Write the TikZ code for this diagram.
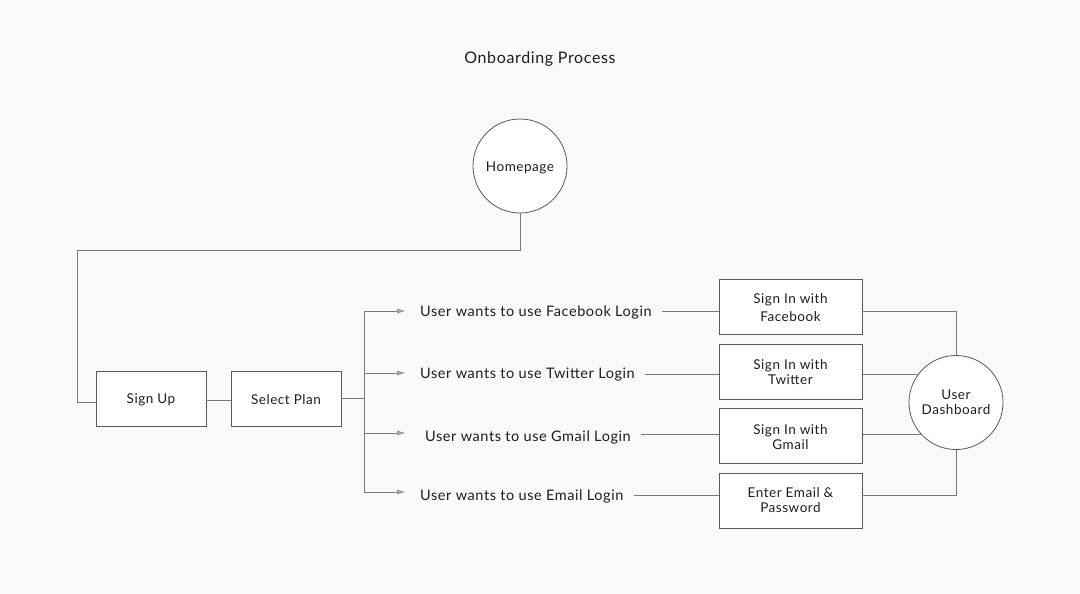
\documentclass[tikz,border=0pt]{standalone}
\usepackage{fontspec}
\setmainfont{Lato}[LetterSpace=4]
\usetikzlibrary{arrows.meta,calc}
\definecolor{bg}{HTML}{F9F9F9}
\definecolor{edge}{HTML}{7A7A7A}
\definecolor{bord}{HTML}{5A5A5A}
\definecolor{txt}{HTML}{1E1E1E}
\newcommand{\lowr}[2]{\raisebox{-#1}[\height][\depth]{\begin{tabular}{@{}c@{}}#2\end{tabular}}}
\tikzset{
  box/.style={draw=bord, line width=0.8pt, fill=white, minimum width=110pt, minimum height=55pt, inner sep=0pt, align=center, text=txt, font=\fontsize{13.5}{15}\selectfont},
  wbox/.style={box, minimum width=143pt, font=\fontsize{13.5}{15}\selectfont},
  circ/.style={draw=bord, line width=0.8pt, fill=white, circle, minimum size=94pt, inner sep=0pt, align=center, text=txt, font=\fontsize{13.5}{15}\selectfont},
  lab/.style={anchor=west, inner xsep=10pt, inner ysep=2pt, text=txt, font=\fontsize{14.5}{16}\selectfont},
  conn/.style={draw=edge, line width=0.9pt},
  arr/.style={conn, -{Triangle[length=8pt, width=4.5pt, fill=edge!60, color=edge!80]}},
}
\begin{document}
\begin{tikzpicture}[x=1pt, y=-1pt]
\fill[bg] (0,0) rectangle (1080,594);
\useasboundingbox (0,0) rectangle (1080,594);

\node[text=txt, font=\fontsize{16}{18}\selectfont] (title) at (540,59) {Onboarding Process};

\node[circ] (home) at (520,166) {\lowr{2pt}{Homepage}};
\node[box] (signup) at (151,398.5) {\lowr{2pt}{Sign Up}};
\node[box] (plan) at (286,398.5) {\lowr{2.5pt}{Select Plan}};

\node[wbox, font=\fontsize{13.5}{18}\selectfont] (fb) at (790.5,306.5) {\lowr{2pt}{Sign In with\\Facebook}};
\node[wbox] (tw) at (790.5,371.5) {\lowr{2pt}{Sign In with\\Twitter}};
\node[wbox] (gm) at (790.5,435.5) {\lowr{3pt}{Sign In with\\Gmail}};
\node[wbox] (em) at (790.5,500.5) {Enter Email \&\\Password};

\node[circ] (dash) at (956,402.5) {User\\Dashboard};

% labels
\node[lab] (lfb) at (410,312) {User wants to use Facebook Login};
\node[lab] (ltw) at (410,375) {User wants to use Twitter Login};
\node[lab] (lgm) at (415,437) {User wants to use Gmail Login};
\node[lab] (lem) at (410,496) {User wants to use Email Login};

% coordinates
\coordinate (jt) at (364,311);
\coordinate (jb) at (364,492);
\coordinate (tfb) at (405,311);
\coordinate (ttw) at (405,373);
\coordinate (tgm) at (405,433);
\coordinate (tem) at (405,492);

% Homepage to Sign Up
\draw[conn] (home.south) -- ++(0,37) -| (77,402) -- (signup.west |- 0,402);
\draw[conn] (signup.east |- 0,400) -- (plan.west |- 0,400);
\draw[conn] (plan.east) -- (plan.east -| jt);
\draw[conn] (jt) -- (jb);
\draw[arr] (jt) -- (tfb);
\draw[arr] (jt |- ttw) -- (ttw);
\draw[arr] (jt |- tgm) -- (tgm);
\draw[arr] (jb) -- (tem);

\draw[conn] (lfb.east |- 0,311) -- (fb.west |- 0,311);
\draw[conn] (ltw.east |- 0,374) -- (tw.west |- 0,374);
\draw[conn] (lgm.east |- 0,434) -- (gm.west |- 0,434);
\draw[conn] (lem.east |- 0,495) -- (em.west |- 0,495);

\draw[conn] (fb.east |- 0,311) -| (dash.north);
\draw[conn] (tw.east |- 0,374) -- ($(dash.center)+(-37.4,-28.5)$);
\draw[conn] (gm.east |- 0,434) -- ($(dash.center)+(-34.9,31.5)$);
\draw[conn] (em.east |- 0,495) -| (dash.south);
\end{tikzpicture}
\end{document}
